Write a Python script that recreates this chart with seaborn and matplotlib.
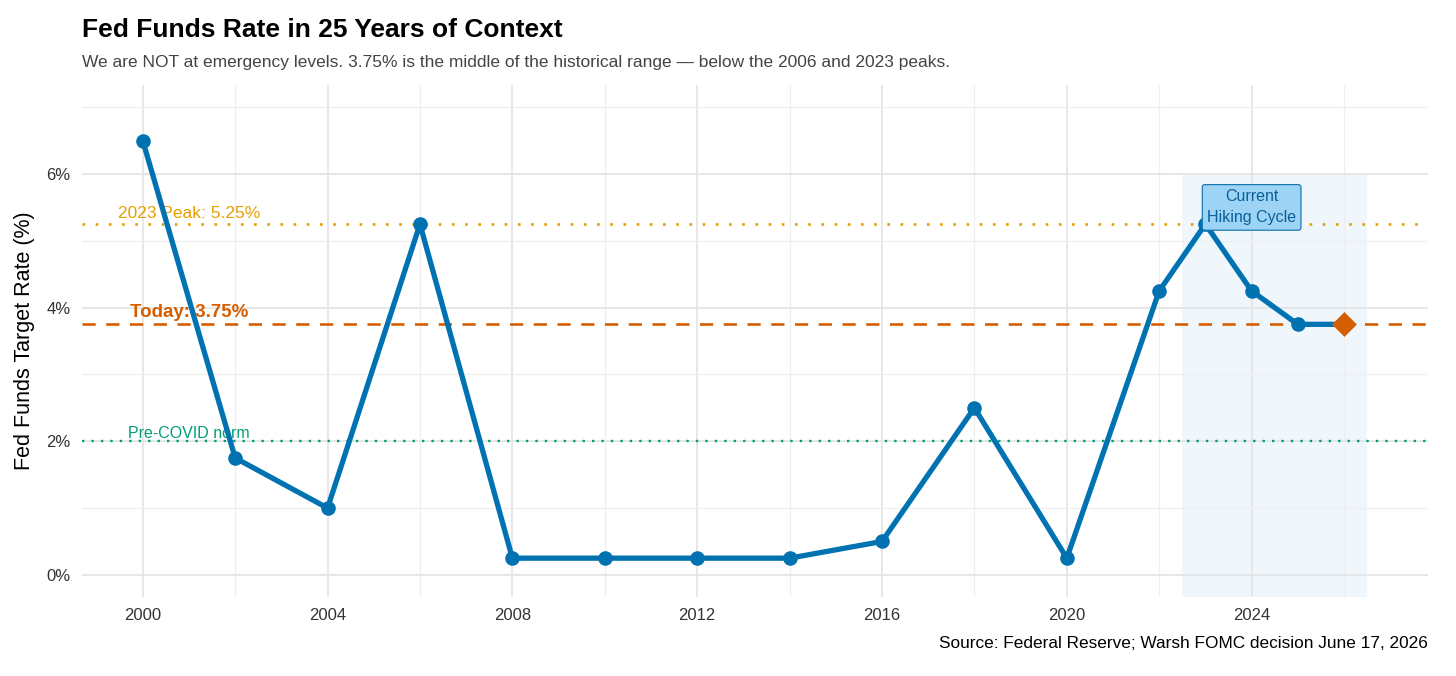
import numpy as np
import pandas as pd
import matplotlib
matplotlib.use("Agg")
import matplotlib.pyplot as plt
import seaborn as sns
from matplotlib.ticker import MultipleLocator, FuncFormatter

# Data
years = [2000, 2002, 2004, 2006, 2008, 2010, 2012, 2014, 2016, 2018, 2020, 2022, 2023, 2024, 2025, 2026]
rates = [6.5, 1.75, 1.0, 5.25, 0.25, 0.25, 0.25, 0.25, 0.5, 2.5, 0.25, 4.25, 5.25, 4.25, 3.75, 3.75]
today_rate = 3.75
peak_2023 = 5.25
precovid_norm = 2.0
cycle_start, cycle_end = 2022.5, 2026.5

df = pd.DataFrame({"year": years, "rate": rates})

sns.set_theme(style="whitegrid")
plt.rcParams["font.family"] = ["Liberation Sans", "DejaVu Sans"]

fig = plt.figure(figsize=(14.56, 6.76), dpi=100)
ax = fig.add_axes([0.056, 0.117, 0.925, 0.757])

# shaded hiking cycle
ax.axvspan(cycle_start, cycle_end, ymin=0, ymax=(6 + 0.33) / 7.66, color="#EEF5FC", alpha=0.9, lw=0, zorder=0)

# reference lines
ax.axhline(peak_2023, color="#E69F00", ls=(0, (1, 4)), lw=1.9, zorder=1)
ax.axhline(today_rate, color="#D55E00", ls=(0, (5, 4)), lw=1.9, zorder=1)
ax.axhline(precovid_norm, color="#009E73", ls=(0, (1, 3)), lw=1.7, zorder=1)

sns.lineplot(data=df, x="year", y="rate", color="#0072B2", lw=3.8, marker="o",
             markersize=10.5, markeredgewidth=0, ax=ax, zorder=3)
last = df.iloc[[-1]]
sns.scatterplot(data=last, x="year", y="rate", color="#D55E00", marker="D", s=160,
                linewidth=0, ax=ax, zorder=4)

ax.text(2001, peak_2023 + 0.05, "2023 Peak: 5.25%", color="#E69F00", fontsize=12.5,
        ha="center", va="bottom", zorder=2)
ax.text(2001, today_rate + 0.05, "Today: 3.75%", color="#D55E00", fontsize=13.5,
        fontweight="bold", ha="center", va="bottom", zorder=2)
ax.text(2001, precovid_norm + 0.0, "Pre-COVID norm", color="#009E73", fontsize=11.5,
        ha="center", va="bottom", zorder=2)
ax.text(2024, 5.5, "Current\nHiking Cycle", color="#0A5F99", fontsize=11.5, ha="center",
        va="center", linespacing=1.5, zorder=5,
        bbox=dict(boxstyle="round,pad=0.3,rounding_size=0.15", fc="#9DD4F5",
                  ec="#0A6FA8", lw=0.8))

ax.set_xlim(1998.675, 2027.825)
ax.set_ylim(-0.33, 7.33)
ax.xaxis.set_major_locator(MultipleLocator(4))
ax.xaxis.set_minor_locator(MultipleLocator(2))
ax.yaxis.set_major_locator(MultipleLocator(2))
ax.yaxis.set_minor_locator(MultipleLocator(1))
ax.yaxis.set_major_formatter(FuncFormatter(lambda v, p: f"{v:.0f}%"))
ax.grid(which="major", color="#E3E3E3", lw=1.2)
ax.grid(which="minor", color="#EFEFEF", lw=0.9)
for s in ax.spines.values():
    s.set_visible(False)
ax.tick_params(axis="both", which="both", length=0, labelsize=12, colors="#333333", pad=8)
ax.set_xlabel("")
ax.set_ylabel("Fed Funds Target Rate (%)", fontsize=15.5, color="black", labelpad=8)

fig.text(0.056, 0.955, "Fed Funds Rate in 25 Years of Context", fontsize=19,
         fontweight="bold", color="black", ha="left", va="center")
fig.text(0.056, 0.907, "We are NOT at emergency levels. 3.75% is the middle of the historical range \u2014 below the 2006 and 2023 peaks.",
         fontsize=12.5, color="#444444", ha="left", va="center")
fig.text(0.981, 0.048, "Source: Federal Reserve; Warsh FOMC decision June 17, 2026",
         fontsize=12.4, color="black", ha="right", va="center")

fig.savefig("out.png", dpi=100, facecolor="white")
